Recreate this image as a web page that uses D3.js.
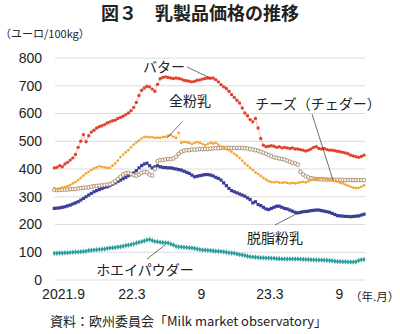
<!DOCTYPE html>
<html>
<head>
<meta charset="utf-8">
<script src="https://cdn.jsdelivr.net/npm/d3@7"></script>
<style>
  body { margin: 0; background: #fff; }
  svg { display: block; }
  text { font-family: "Liberation Sans", Arial, sans-serif; fill: #222; }
  .jp { font-family: "Noto Sans CJK JP", sans-serif; }
</style>
</head>
<body>
<div class="canvas"></div>
<script>
// weekly EU prices (euro / 100kg), first week = 2021-08-09
const butter = [
  404,406,412,408,418,424,432,440,452,478,
  500,524,498,520,533,540,548,552,556,560,
  566,570,574,576,582,586,590,596,602,610,
  622,640,665,684,692,698,696,688,680,705,
  725,730,732,730,728,726,728,726,724,720,
  718,716,714,716,720,721,724,726,728,727,
  728,722,714,704,696,690,680,668,658,648,
  638,620,602,592,578,570,582,548,510,486,
  480,482,484,482,478,480,476,478,476,474,
  476,472,472,470,468,465,468,472,478,480,
  474,472,474,470,468,468,466,464,462,460,
  458,455,450,447,444,442,445,450
];
const wmp = [
  331,328,330,333,335,338,342,348,353,360,
  368,376,384,390,396,402,406,410,408,406,
  404,404,412,420,430,443,452,460,468,478,
  488,496,502,510,515,516,514,515,512,513,
  512,515,516,520,522,516,512,530,494,498,
  496,494,490,494,497,494,490,486,490,494,
  492,494,488,482,478,472,468,462,455,448,
  440,430,420,412,404,396,388,382,375,368,
  362,356,353,352,354,351,350,352,350,348,
  350,348,350,352,354,352,356,360,362,364,
  366,367,366,364,362,358,356,354,350,348,
  344,340,336,333,331,332,336,341
];
const cheddar = [
  324,324,325,325,326,326,327,328,328,330,
  331,332,333,334,336,338,339,340,341,342,
  344,345,350,356,364,372,380,385,386,382,
  378,376,380,386,390,388,380,376,400,428,
  432,432,434,436,436,438,444,455,462,466,
  468,468,470,470,470,472,472,472,472,474,
  474,475,475,476,476,476,476,476,476,476,
  476,476,475,474,472,470,468,466,462,458,
  455,450,446,442,440,438,436,434,430,426,
  422,420,416,390,380,374,370,367,365,364,
  363,363,362,362,362,362,361,361,361,361,
  360,360,360,360,360,360,360,360
];
const smp = [
  258,259,260,262,264,267,270,274,278,282,
  288,294,300,306,312,318,322,326,330,334,
  336,340,345,350,355,360,365,370,376,380,
  386,394,404,412,418,421,412,404,408,412,
  408,406,405,404,404,402,400,398,396,392,
  388,384,378,372,374,376,378,380,380,378,
  375,370,366,360,350,340,330,322,318,314,
  310,306,302,296,290,278,282,272,268,262,
  256,254,258,262,266,266,262,258,256,252,
  248,244,242,244,246,247,248,250,251,252,
  252,250,248,246,244,240,236,232,231,230,
  229,229,228,229,230,231,234,237
];
const whey = [
  96,96,97,97,98,98,99,100,101,101,
  102,103,104,106,107,108,109,110,111,112,
  114,115,116,117,119,120,122,124,126,128,
  130,133,136,138,141,144,146,142,139,138,
  136,135,134,133,130,126,122,120,119,118,
  117,116,115,114,112,110,108,108,107,106,
  105,104,104,103,102,100,98,97,96,94,
  92,90,88,86,84,83,82,81,80,80,
  79,79,78,78,77,77,76,76,76,76,
  76,76,76,75,75,74,74,73,73,72,
  72,72,71,71,70,69,68,67,67,66,
  66,65,65,65,66,70,73,74
];

const yTicks = [0, 100, 200, 300, 400, 500, 600, 700, 800];
const xTickDates = [new Date(2021, 8, 1), new Date(2022, 2, 1), new Date(2022, 8, 1), new Date(2023, 2, 1), new Date(2023, 8, 1)];
const xTickLabels = ['2021.9', '22.3', '9', '23.3', '9'];

// week dates
const dates = butter.map((v, i) => d3.timeDay.offset(new Date(2021, 7, 9), i * 7));

const width = 400, height = 334;
const svg = d3.select('.canvas').append('svg')
    .attr('width', width)
    .attr('height', height);

const x = d3.scaleTime()
    .domain([xTickDates[0], xTickDates[4]])
    .range([63, 339]);
const y = d3.scaleLinear()
    .domain([0, 800])
    .range([280, 58]);

// gridlines
svg.append('g').selectAll('line')
    .data(yTicks)
    .enter().append('line')
    .attr('x1', 55).attr('x2', 365)
    .attr('y1', d => y(d)).attr('y2', d => y(d))
    .attr('stroke', '#dcdcdc')
    .attr('stroke-width', 1);

// y axis labels
const yAxis = d3.axisLeft(y).tickValues(yTicks).tickSize(0).tickPadding(0);
svg.append('g')
    .attr('transform', 'translate(42,0)')
    .call(yAxis)
    .call(g => g.select('.domain').remove())
    .selectAll('text')
    .attr('font-size', 14)
    .attr('font-family', '"Liberation Sans", Arial, sans-serif')
    .attr('fill', '#222');

// x axis labels
const xAxis = d3.axisBottom(x).tickValues(xTickDates)
    .tickFormat((d, i) => xTickLabels[i]).tickSize(0).tickPadding(0);
svg.append('g')
    .attr('transform', 'translate(0,289)')
    .call(xAxis)
    .call(g => g.select('.domain').remove())
    .selectAll('text')
    .attr('font-size', 14)
    .attr('font-family', '"Liberation Sans", Arial, sans-serif')
    .attr('fill', '#222');

svg.append('text').attr('class', 'jp')
    .attr('x', 350).attr('y', 301)
    .attr('font-size', 11.5)
    .text('（年.月）');

// series
const series = [
  { name: 'whey', values: whey, color: '#2a9d9a', shape: 'diamond', size: 2.1 },
  { name: 'smp', values: smp, color: '#3b3f98', shape: 'square', size: 3.2 },
  { name: 'cheddar', values: cheddar, color: '#a68766', shape: 'ring', size: 1.8 },
  { name: 'wmp', values: wmp, color: '#f2a431', shape: 'circle', size: 1.35 },
  { name: 'butter', values: butter, color: '#e2412b', shape: 'circle', size: 1.7 }
];

const line = d3.line()
    .x((d, i) => x(dates[i]))
    .y(d => y(d));

series.forEach(s => {
  const g = svg.append('g').attr('class', 'series ' + s.name);
  g.append('path')
      .attr('d', line(s.values))
      .attr('fill', 'none')
      .attr('stroke', s.color)
      .attr('stroke-opacity', 0.7)
      .attr('stroke-width', 0.5);

  const pts = g.selectAll('.pt').data(s.values).enter();
  if (s.shape === 'square') {
    pts.append('rect')
        .attr('x', (d, i) => x(dates[i]) - s.size / 2)
        .attr('y', d => y(d) - s.size / 2)
        .attr('width', s.size).attr('height', s.size)
        .attr('fill', s.color);
  } else if (s.shape === 'diamond') {
    pts.append('path')
        .attr('d', d3.symbol(d3.symbolDiamond, s.size * s.size * 2))
        .attr('transform', (d, i) => `translate(${x(dates[i])},${y(d)})`)
        .attr('fill', s.color);
  } else if (s.shape === 'ring') {
    pts.append('circle')
        .attr('cx', (d, i) => x(dates[i]))
        .attr('cy', d => y(d))
        .attr('r', s.size)
        .attr('fill', '#fff')
        .attr('stroke', s.color)
        .attr('stroke-width', 0.9);
  } else {
    pts.append('circle')
        .attr('cx', (d, i) => x(dates[i]))
        .attr('cy', d => y(d))
        .attr('r', s.size)
        .attr('fill', s.color);
  }
});

// leader lines and series labels
const labels = [
  { text: 'バター', x: 164, y: 72, lx1: 187, ly1: 67, lx2: 210, ly2: 78 },
  { text: '全粉乳', x: 190, y: 106, lx1: 182, ly1: 122, lx2: 167, ly2: 138 },
  { text: 'チーズ（チェダー）', x: 318, y: 109, lx1: 312, ly1: 114, lx2: 333, ly2: 180 },
  { text: '脱脂粉乳', x: 275, y: 243, lx1: 275, ly1: 225, lx2: 298, ly2: 213 },
  { text: 'ホエイパウダー', x: 145, y: 275, lx1: 147, ly1: 259, lx2: 165, ly2: 245 }
];
labels.forEach(l => {
  svg.append('line')
      .attr('x1', l.lx1).attr('y1', l.ly1)
      .attr('x2', l.lx2).attr('y2', l.ly2)
      .attr('stroke', '#333').attr('stroke-width', 0.7);
  svg.append('text').attr('class', 'jp')
      .attr('x', l.x).attr('y', l.y)
      .attr('text-anchor', 'middle')
      .attr('font-size', 14)
      .text(l.text);
});

// title, unit and source
svg.append('text').attr('class', 'jp')
    .attr('x', 200).attr('y', 20)
    .attr('text-anchor', 'middle')
    .attr('font-size', 18)
    .attr('font-weight', 'bold')
    .text('図３　乳製品価格の推移');

svg.append('text').attr('class', 'jp')
    .attr('x', 0).attr('y', 38)
    .attr('font-size', 11)
    .text('（ユーロ/100kg）');

svg.append('text').attr('class', 'jp')
    .attr('x', 50).attr('y', 326)
    .attr('font-size', 13)
    .text('資料：欧州委員会「Milk market observatory」');
</script>
</body>
</html>
